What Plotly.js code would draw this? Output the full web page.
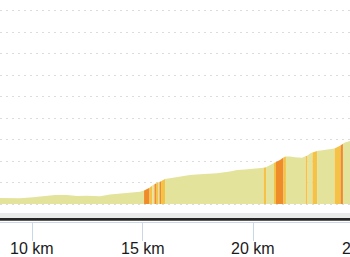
<!DOCTYPE html>
<html>
<head>
<meta charset="utf-8">
<script src="https://cdn.plot.ly/plotly-3.0.1.min.js"></script>
<style>html,body{margin:0;padding:0;background:#fff;}#chart{width:350px;height:257px;}</style>
</head>
<body>
<div id="chart"></div>
<script>
// Distance along route (km)
const distanceKm = [8.50, 9.00, 9.46, 10.05, 10.68, 11.04, 11.58, 12.04, 12.49, 13.08, 13.53, 14.30, 14.89,
  15.07, 15.32, 15.45, 15.54, 15.61, 15.70, 15.77, 15.84, 16.02, 16.24, 16.70, 17.15, 17.60, 18.37, 18.96,
  19.28, 19.64, 20.18, 20.48, 20.59, 20.77, 20.95, 21.04, 21.22, 21.38, 21.49, 21.67, 21.90, 22.22, 22.38,
  22.47, 22.58, 22.69, 22.90, 23.26, 23.62, 23.69, 23.85, 23.96, 24.07, 24.16, 24.39, 24.60];
// Elevation (m)
const elevation = [28, 27, 27, 31, 38, 42, 42, 37, 39, 36, 44, 51, 57,
  63, 76, 86, 92, 96, 100, 103, 106, 117, 121, 126, 135, 139, 143, 152,
  159, 161, 167, 169, 171, 182, 191, 196, 205, 217, 221, 222, 218, 216, 223,
  226, 236, 240, 247, 252, 257, 259, 267, 273, 281, 287, 294, 300];
// Grade class of the segment starting at each point: 0 gentle, 1 moderate, 2 steep
const gradeClass = [0, 0, 0, 0, 0, 0, 0, 0, 0, 0, 0, 0, 0,
  2, 1, 0, 2, 1, 0, 2, 1, 0, 0, 0, 0, 0, 0, 0,
  0, 0, 0, 1, 0, 0, 1, 2, 2, 1, 0, 0, 0, 0, 1,
  0, 0, 1, 0, 0, 0, 1, 1, 2, 0, 0, 0, 0];
const gradeColors = ['#e3e39b', '#f4c246', '#ef8c2a'];
const tickKm = [10, 15, 20, 25];
const tickLabels = ['10 km', '15 km', '20 km', '25 km'];

const xRange = [8.552, 24.389];

// group consecutive segments of the same class into filled traces
const traces = [];
let start = 0;
for (let i = 1; i < distanceKm.length; i++) {
  const endRun = (i === distanceKm.length - 1) || gradeClass[i] !== gradeClass[start];
  if (endRun) {
    traces.push({
      type: 'scatter', mode: 'lines',
      x: distanceKm.slice(start, i + 1),
      y: elevation.slice(start, i + 1),
      fill: 'tozeroy',
      fillcolor: gradeColors[gradeClass[start]],
      line: {width: 0, color: gradeColors[gradeClass[start]]},
      hoverinfo: 'skip', showlegend: false
    });
    start = i;
  }
}

// tick labels as annotations (so the label of the tick just past the edge shows, clipped, like the source)
const labelFont = {size: 16, color: '#1a1a1a', family: 'Liberation Sans, Arial, sans-serif'};
const tickAnnotations = tickKm.map((km, i) => ({
  xref: 'paper', yref: 'paper',
  x: (km - xRange[0]) / (xRange[1] - xRange[0]),
  y: -0.118,
  xanchor: 'center', yanchor: 'middle',
  text: tickLabels[i], showarrow: false, font: labelFont
}));

const layout = {
  width: 350, height: 257,
  margin: {l: 0, r: 0, t: 0, b: 35, pad: 0},
  paper_bgcolor: '#ffffff', plot_bgcolor: '#ffffff',
  showlegend: false, hovermode: false,
  font: {family: 'Liberation Sans, Arial, sans-serif', color: '#1a1a1a'},
  xaxis: {
    range: xRange, fixedrange: true,
    tickmode: 'array', tickvals: tickKm, showticklabels: false,
    ticks: 'outside', ticklen: 18, tickwidth: 1, tickcolor: '#ccd6eb',
    showline: true, linecolor: '#ccd6eb', linewidth: 1,
    showgrid: false, zeroline: false
  },
  yaxis: {
    range: [-83.9, 951], fixedrange: true,
    tick0: 0, dtick: 100, showticklabels: false, ticks: '',
    showgrid: true, gridcolor: '#dcdcdc', gridwidth: 1, griddash: '2px,4px',
    zeroline: false, showline: false
  },
  annotations: tickAnnotations,
  shapes: [
    {type: 'rect', xref: 'paper', yref: 'paper', x0: 0, x1: 1, y0: 0.018, y1: 0.04,
     fillcolor: '#eaeaea', line: {width: 0}, layer: 'above'},
    {type: 'rect', xref: 'paper', yref: 'paper', x0: 0, x1: 1, y0: 0.006, y1: 0.018,
     fillcolor: '#262626', line: {width: 0}, layer: 'above'}
  ]
};

Plotly.newPlot('chart', traces, layout, {displayModeBar: false, staticPlot: true});
</script>
</body>
</html>
